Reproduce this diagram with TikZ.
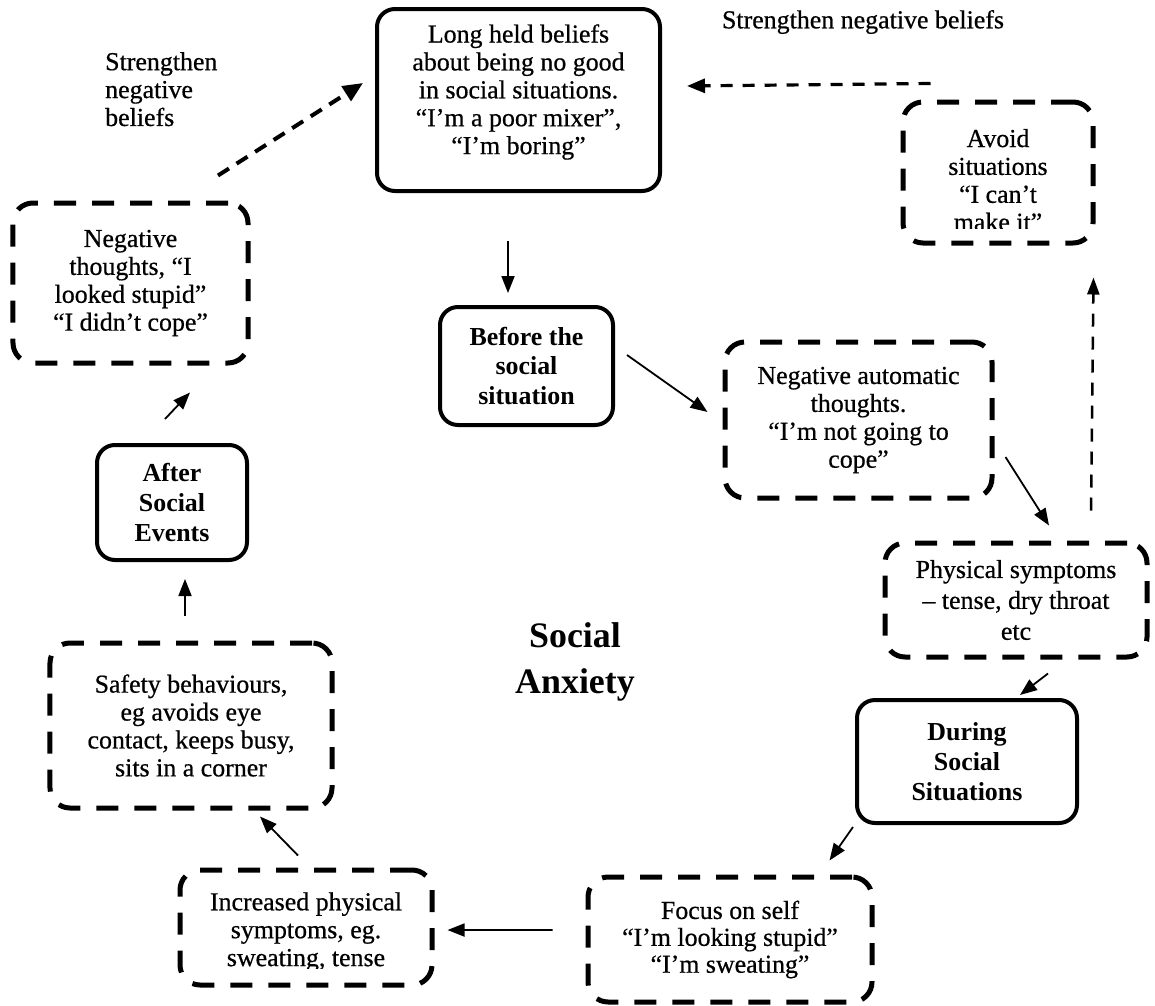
\documentclass[tikz,border=0pt]{standalone}
\usepackage{fontspec}
\setmainfont{Liberation Serif}
\newfontfamily\scanfont{Liberation Serif}[FakeBold=0.6]
\usetikzlibrary{arrows.meta}
\begin{document}
\begin{tikzpicture}[x=1bp,y=-1bp,
  txt/.style={font=\scanfont\fontsize{26}{28}\selectfont, align=center, inner sep=0pt},
  sbox/.style={draw, line width=4bp, rounded corners=18bp, inner sep=0pt, align=center,
    font=\fontsize{26}{30}\selectfont\bfseries},
  dbox/.style={draw, line width=5bp, dash pattern=on 22bp off 16bp, rounded corners=20bp,
    inner sep=0pt, align=center, font=\scanfont\fontsize{26}{28}\selectfont},
  arr/.style={line width=1.8bp, -{Triangle[length=17bp,width=13bp]}},
  darrA/.style={line width=4bp, dash pattern=on 13bp off 9bp, -{Triangle[length=20bp,width=17bp]}},
  darrB/.style={line width=3.2bp, dash pattern=on 12bp off 10bp, -{Triangle[length=18bp,width=14bp]}},
  darrC/.style={line width=2.5bp, dash pattern=on 13bp off 10bp, -{Triangle[length=17bp,width=12bp]}}
]
\useasboundingbox (0,0) rectangle (1155,1006);

% labels
\node[txt, align=left, anchor=north west] (lblL) at (105,52) {Strengthen\\negative\\beliefs};
\node[txt] (lblR) at (863,22) {Strengthen negative beliefs};
\node[font=\fontsize{36}{46}\selectfont\bfseries, align=center, inner sep=0pt] (title) at (575,662) {Social\\Anxiety};

% boxes
\node[sbox, minimum width=283bp, minimum height=182bp] (beliefs) at (518.5,100) {};
\node[txt] (beliefs-t) at (518.5,92) {Long held beliefs\\about being no good\\in social situations.\\“I’m a poor mixer”,\\“I’m boring”};

\node[dbox, minimum width=190bp, minimum height=141bp] (avoid) at (998,172.5) {};
\begin{scope}
  \clip (903,102) rectangle (1093,228);
  \node[txt] (avoid-t) at (998,180) {Avoid\\situations\\“I can’t\\make it”};
\end{scope}

\node[dbox, minimum width=235bp, minimum height=160bp] (negthought) at (130.5,283) {Negative\\thoughts, “I\\looked stupid”\\“I didn’t cope”};

\node[sbox, minimum width=173bp, minimum height=118bp] (before) at (526.5,366) {Before the\\social\\situation};

\node[dbox, minimum width=267bp, minimum height=156bp] (nat) at (858.5,420) {Negative automatic\\thoughts.\\“I’m not going to\\cope”};

\node[dbox, minimum width=262bp, minimum height=114bp, font=\scanfont\fontsize{26}{31}\selectfont] (physical) at (1016,600) {Physical symptoms\\– tense, dry throat\\etc};

\node[sbox, minimum width=220bp, minimum height=123bp] (during) at (967,761.5) {During\\Social\\Situations};

\node[dbox, minimum width=284bp, minimum height=125bp, font=\scanfont\fontsize{26}{27}\selectfont] (focus) at (730,939.5) {Focus on self\\“I’m looking stupid”\\“I’m sweating”};

\node[dbox, minimum width=252bp, minimum height=115bp] (increased) at (306,927.5) {};
\begin{scope}
  \clip (180,870) rectangle (432,968);
  \node[txt] (increased-t) at (306,932) {Increased physical\\symptoms, eg.\\sweating, tense};
\end{scope}

\node[dbox, minimum width=282bp, minimum height=165bp] (safety) at (191,725.5) {Safety behaviours,\\eg avoids eye\\contact, keeps busy,\\sits in a corner};

\node[sbox, minimum width=150bp, minimum height=115bp] (after) at (172,502.5) {After\\Social\\Events};

% connectors
\draw[arr] ([shift={(-10.5,48)}]beliefs.south) -- ([shift={(-18.5,-12)}]before.north);
\draw[arr] ([shift={(12,-11)}]before.east) -- ([shift={(-15,-8)}]nat.west);
\draw[arr] ([shift={(11,37)}]nat.east) -- ([shift={(33,-15)}]physical.north);
\draw[darrC] ([shift={(75,-30)}]physical.north) -- ([shift={(-2,32)}]avoid.south east);
\draw[arr] ([shift={(32,14)}]physical.south) -- ([shift={(53,-3)}]during.north);
\draw[arr] ([shift={(-2,2)}]during.south west) -- ([shift={(-45,-14)}]focus.north east);
\draw[arr] ([shift={(-33,-9.5)}]focus.west) -- ([shift={(13,2.5)}]increased.east);
\draw[arr] ([shift={(-8,-12)}]increased.north) -- ([shift={(69,6)}]safety.south);
\draw[arr] ([shift={(-6,-25)}]safety.north) -- ([shift={(13,17)}]after.south);
\draw[arr] ([shift={(-7,-24)}]after.north) -- ([shift={(59.5,27)}]negthought.south);
\draw[darrA] ([shift={(87.5,-25)}]negthought.north) -- ([shift={(-12,-17)}]beliefs.west);
\draw[darrB] ([shift={(30,-16)}]avoid.north west) -- ([shift={(25,-14)}]beliefs.east);
\end{tikzpicture}
\end{document}
